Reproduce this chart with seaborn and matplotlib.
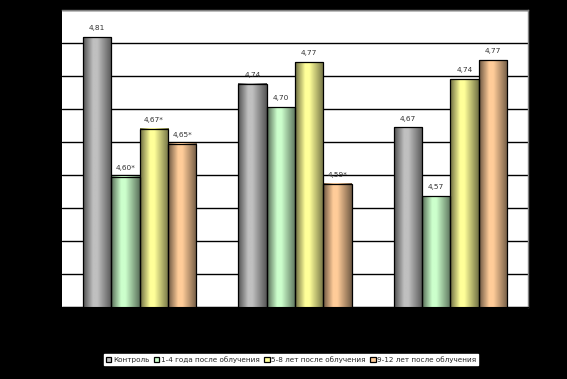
import numpy as np
import pandas as pd
import matplotlib
matplotlib.use("Agg")
import matplotlib.pyplot as plt
import seaborn as sns
from matplotlib.colors import to_rgb

groups = ["Группа 1", "Группа 2", "Группа 3"]
series = ["Контроль", "1-4 года после облучения", "5-8 лет после облучения", "9-12 лет после облучения"]
values_control = [4.809, 4.738, 4.672]
values_1_4 = [4.597, 4.703, 4.568]
values_5_8 = [4.670, 4.771, 4.745]
values_9_12 = [4.647, 4.587, 4.774]
labels_control = ["4,81", "4,74", "4,67"]
labels_1_4 = ["4,60*", "4,70", "4,57"]
labels_5_8 = ["4,67*", "4,77", "4,74"]
labels_9_12 = ["4,65*", "4,59*", "4,77"]
colors = ["#c0c0c0", "#ccffcc", "#ffff99", "#ffcc99"]

all_vals = [values_control, values_1_4, values_5_8, values_9_12]
all_labels = [labels_control, labels_1_4, labels_5_8, labels_9_12]
rows = []
for s, vals in zip(series, all_vals):
    for g, v in zip(groups, vals):
        rows.append({"group": g, "series": s, "value": v})
df = pd.DataFrame(rows)

sns.set_style("white")
fig = plt.figure(figsize=(5.67, 3.79), dpi=100, facecolor="black")
ax = fig.add_axes([62/567, 1-307/379, (528-62)/567, (307-10)/379])
ax.set_facecolor("white")

sns.barplot(data=df, x="group", y="value", hue="series", palette=colors,
            hue_order=series, order=groups, width=0.73, ax=ax, legend=True,
            edgecolor="black", linewidth=0.9, saturation=1)

ymin, ymax = 4.40, 4.85
ax.set_ylim(ymin, ymax)
ticks = np.arange(4.40, 4.851, 0.05)
ax.set_yticks(ticks)
ax.set_yticklabels([f"{t:.2f}".replace(".", ",") for t in ticks],
                   color="black", fontsize=6)
ax.yaxis.grid(True, color="black", linewidth=1)
ax.set_axisbelow(True)
ax.set_xlabel("")
ax.set_ylabel("")
ax.set_xticklabels([])
ax.tick_params(length=0)
ax.set_xlim(-0.5, 2.5)
for side in ["top", "right"]:
    ax.spines[side].set_color("#808080")
    ax.spines[side].set_linewidth(1)
ax.spines["left"].set_visible(False)
ax.spines["bottom"].set_color("black")

# cylinder-like gradient shading for bars
n = 64
xs = np.linspace(0, 1, n)
shade = np.interp(xs, [0.0, 0.35, 0.5, 1.0], [0.0, 1.0, 1.0, 0.05])
bars = [p for p in ax.patches if p.get_height() > 0 and p.get_width() > 0][:12]
for i, p in enumerate(bars):
    si, gi = divmod(i, 3)
    base = np.array(to_rgb(colors[si]))
    dark = base * 0.42
    img = dark[None, :] + (base - dark)[None, :] * shade[:, None]
    img = np.repeat(img[None, :, :], 2, axis=0)
    x0 = p.get_x(); w = p.get_width()
    top = p.get_height() + p.get_y()
    ax.imshow(img, extent=[x0, x0 + w, ymin, top], aspect="auto", zorder=2,
              interpolation="bilinear")
    p.set_facecolor("none")
    p.set_zorder(3)
    ax.text(x0 + w / 2, top + 0.009, all_labels[si][gi], ha="center", va="bottom",
            fontsize=5.3, color="#333333", zorder=4)
ax.set_xlim(-0.5, 2.5)
ax.set_ylim(ymin, ymax)

leg = ax.get_legend()
handles = leg.legend_handles
leg.remove()
fig.legend(handles, series, loc="center", bbox_to_anchor=(291/567, 19.5/379),
           ncol=4, frameon=True, fontsize=5.2, handlelength=0.8, handleheight=0.8,
           handletextpad=0.2, columnspacing=0.6, borderpad=0.3, fancybox=False,
           edgecolor="white", facecolor="white", framealpha=1)
for h in handles:
    h.set_edgecolor("black")
    h.set_linewidth(0.6)

fig.savefig("out.png", dpi=100, facecolor="black")
